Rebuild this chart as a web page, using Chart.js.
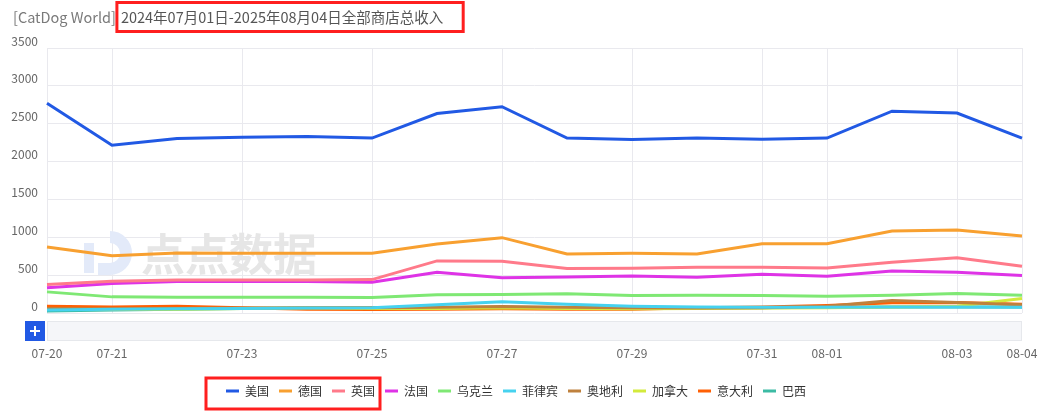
<!DOCTYPE html>
<html>
<head>
<meta charset="utf-8">
<script src="https://cdn.jsdelivr.net/npm/chart.js@4.4.1/dist/chart.umd.min.js"></script>
<style>
  html, body { margin: 0; padding: 0; background: #fff; }
  #wrap { width: 1048px; height: 415px; position: relative; }
</style>
</head>
<body>
<div id="wrap"><canvas id="revenueChart"></canvas></div>
<script>
// ===== DATA =====
const dates = ['07-20', '07-21', '07-22', '07-23', '07-24', '07-25', '07-26', '07-27',
               '07-28', '07-29', '07-30', '07-31', '08-01', '08-02', '08-03', '08-04'];
const shownTicks = [0, 1, 3, 5, 7, 9, 11, 12, 14, 15];

const usa       = [2770, 2215, 2305, 2320, 2330, 2310, 2635, 2725, 2310, 2290, 2310, 2295, 2310, 2665, 2640, 2310];
const germany   = [872, 755, 792, 788, 788, 788, 912, 995, 780, 788, 780, 915, 915, 1083, 1096, 1017];
const uk        = [376, 420, 437, 437, 437, 441, 688, 684, 588, 592, 604, 604, 595, 670, 731, 617];
const france    = [332, 390, 415, 415, 415, 406, 538, 464, 477, 490, 472, 511, 485, 556, 538, 494];
const ukraine   = [279, 213, 209, 209, 209, 204, 240, 244, 253, 231, 235, 231, 222, 235, 257, 235];
const philippines = [40, 50, 55, 60, 65, 70, 110, 150, 115, 90, 80, 75, 75, 80, 80, 75];
const austria   = [60, 55, 60, 65, 70, 70, 75, 85, 75, 70, 65, 70, 90, 165, 140, 110];
const canada    = [50, 45, 50, 60, 65, 60, 60, 70, 60, 55, 60, 65, 70, 80, 90, 190];
const italy     = [90, 80, 90, 70, 50, 45, 50, 55, 50, 50, 70, 80, 100, 135, 140, 115];
const brazil    = [25, 40, 50, 60, 65, 70, 70, 75, 70, 70, 70, 70, 75, 80, 80, 80];

const seriesNames  = ['美国', '德国', '英国', '法国', '乌克兰', '菲律宾', '奥地利', '加拿大', '意大利', '巴西'];
const seriesData   = [usa, germany, uk, france, ukraine, philippines, austria, canada, italy, brazil];
const seriesColors = ['#2159e4', '#f8a030', '#ff7a8a', '#de33e6', '#7fe874', '#46d2ef', '#bf813d', '#d3ea3c', '#ff6005', '#3cbba4'];

const FONT = '"Noto Sans CJK SC", "Noto Sans", sans-serif';

// ===== PLUGINS =====
// title with the red highlight around the date part
const titlePlugin = {
  id: 'titlePlugin',
  afterDraw(chart) {
    const ctx = chart.ctx;
    ctx.save();
    ctx.font = '14.5px ' + FONT;
    ctx.textBaseline = 'middle';
    ctx.fillStyle = '#7a7a7a';
    const p1 = '[CatDog World]';
    ctx.fillText(p1, 13, 17);
    const x2 = 13 + ctx.measureText(p1).width + 5;
    const p2 = '2024年07月01日-2025年08月04日全部商店总收入';
    ctx.fillStyle = '#555';
    ctx.fillText(p2, x2, 17);
    const w2 = ctx.measureText(p2).width;
    ctx.strokeStyle = '#ff1f1f';
    ctx.lineWidth = 3;
    ctx.strokeRect(x2 - 4, 2.5, w2 + 24, 29);
    ctx.restore();
  }
};

// data-zoom strip under the plot
const zoomBarPlugin = {
  id: 'zoomBarPlugin',
  afterDraw(chart) {
    const ctx = chart.ctx;
    const a = chart.chartArea;
    ctx.save();
    ctx.fillStyle = '#f5f6f9';
    ctx.fillRect(a.left, a.bottom + 8, a.right - a.left, 20);
    ctx.strokeStyle = '#e6e8ec';
    ctx.lineWidth = 1;
    ctx.strokeRect(a.left + 0.5, a.bottom + 8.5, a.right - a.left - 1, 19);
    ctx.fillStyle = '#2159e4';
    ctx.fillRect(a.left - 22, a.bottom + 8, 20, 20);
    ctx.strokeStyle = '#fff';
    ctx.lineWidth = 2;
    const cx = a.left - 12, cy = a.bottom + 18;
    ctx.beginPath();
    ctx.moveTo(cx - 5, cy); ctx.lineTo(cx + 5, cy);
    ctx.moveTo(cx, cy - 5); ctx.lineTo(cx, cy + 5);
    ctx.stroke();
    ctx.restore();
  }
};

// faint watermark behind the lines
const watermarkPlugin = {
  id: 'watermarkPlugin',
  beforeDatasetsDraw(chart) {
    const ctx = chart.ctx;
    ctx.save();
    ctx.strokeStyle = '#e3eaf9';
    ctx.lineWidth = 12;
    ctx.beginPath();
    ctx.arc(110, 253, 16, -Math.PI / 2, Math.PI / 2);
    ctx.lineTo(98, 269);
    ctx.stroke();
    ctx.fillStyle = '#e3eaf9';
    ctx.fillRect(84, 243, 10, 30);
    ctx.fillStyle = '#e6e6e6';
    ctx.font = 'bold 44px ' + FONT;
    ctx.textBaseline = 'middle';
    ctx.fillText('点点数据', 141, 254);
    ctx.restore();
  }
};

// red frame round the first three legend entries
const legendFramePlugin = {
  id: 'legendFramePlugin',
  afterDraw(chart) {
    const hb = chart.legend && chart.legend.legendHitBoxes;
    if (!hb || hb.length < 3) return;
    const ctx = chart.ctx;
    const left = hb[0].left - 20;
    const right = hb[2].left + hb[2].width + 5;
    const top = hb[0].top - 7;
    const bottom = hb[0].top + hb[0].height + 12;
    ctx.save();
    ctx.strokeStyle = '#ff1f1f';
    ctx.lineWidth = 3;
    ctx.strokeRect(left, top, right - left, bottom - top);
    ctx.restore();
  }
};

// ===== CHART =====
new Chart(document.getElementById('revenueChart'), {
  type: 'line',
  data: {
    labels: dates,
    datasets: seriesNames.map((name, i) => ({
      label: name,
      data: seriesData[i],
      borderColor: seriesColors[i],
      backgroundColor: seriesColors[i],
      borderWidth: 3,
      pointRadius: 0,
      tension: 0,
      fill: false
    }))
  },
  options: {
    responsive: true,
    maintainAspectRatio: false,
    animation: false,
    layout: { padding: { top: 48, right: 26, bottom: 8, left: 10 } },
    plugins: {
      title: { display: false },
      tooltip: { enabled: false },
      legend: {
        position: 'bottom',
        labels: {
          boxWidth: 13,
          boxHeight: 3,
          padding: 10,
          color: '#333',
          font: { size: 12, family: FONT },
          generateLabels(chart) {
            return Chart.defaults.plugins.legend.labels.generateLabels(chart).map(l => ({
              ...l, lineWidth: 0, fillStyle: l.strokeStyle
            }));
          }
        }
      }
    },
    scales: {
      x: {
        border: { display: false },
        grid: {
          drawTicks: false,
          color: ctx => shownTicks.includes(ctx.index) ? '#e9e9ee' : 'transparent'
        },
        ticks: {
          autoSkip: false,
          maxRotation: 0,
          padding: 33,
          color: '#666',
          font: { size: 12, family: FONT },
          callback: (v, i) => shownTicks.includes(i) ? dates[i] : ''
        },
        afterFit: s => { s.height = 62; s.paddingLeft = 0; s.paddingRight = 0; }
      },
      y: {
        min: 0,
        max: 3500,
        border: { display: false },
        grid: { drawTicks: false, color: '#e9e9ee' },
        ticks: {
          stepSize: 500,
          padding: 9,
          labelOffset: -7,
          color: '#666',
          font: { size: 12, family: FONT },
          callback: v => String(v)
        },
        afterFit: s => { s.width = 37; }
      }
    }
  },
  plugins: [titlePlugin, zoomBarPlugin, watermarkPlugin, legendFramePlugin]
});
</script>
</body>
</html>
